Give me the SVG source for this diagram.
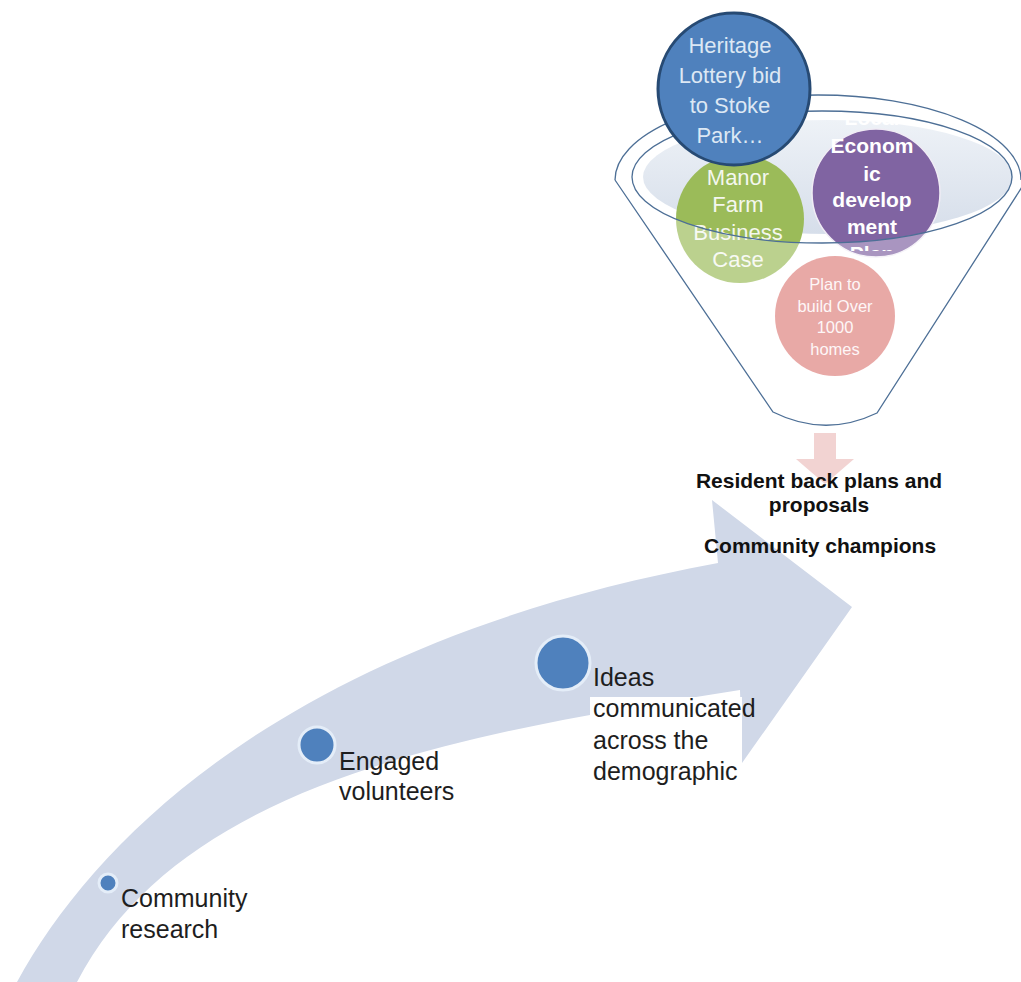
<svg xmlns="http://www.w3.org/2000/svg" width="1021" height="982" viewBox="0 0 1021 982">
<defs>
<style>
.body{font-family:"Liberation Sans",Arial,sans-serif;font-size:25px;fill:#1e1e1e}
.bold{font-family:"Liberation Sans",Arial,sans-serif;font-size:21px;font-weight:bold;fill:#111;text-anchor:middle}
.ct{font-family:"Liberation Sans",Arial,sans-serif;text-anchor:middle}
.dot{fill:#4f81bd;stroke:#e4edf8;stroke-width:3}
.rim{fill:none;stroke:#4d6f96;stroke-width:1.3}
</style>
<linearGradient id="bowl" x1="0" y1="0" x2="0" y2="1">
<stop offset="0" stop-color="#eef2f7"/>
<stop offset="1" stop-color="#d6deea"/>
</linearGradient>
<clipPath id="pclip"><rect x="800" y="100" width="160" height="151"/></clipPath>
</defs>
<rect width="1021" height="982" fill="#ffffff"/>

<g id="curved-arrow">
<path d="M17,982 C100,830 300,640 718,563 L712,500 L852,607 L742,763 L740,690 C450,735 180,785 77,982 Z" fill="#d0d8e8"/>
<rect x="590" y="697" width="152" height="98" fill="#ffffff"/>
</g>

<g id="step-community-research">
<circle class="dot" cx="108" cy="883" r="9"/>
<text class="body" x="121" y="907">Community</text>
<text class="body" x="121" y="938">research</text>
</g>
<g id="step-engaged-volunteers">
<circle class="dot" cx="317" cy="745" r="18"/>
<text class="body" x="339" y="770">Engaged</text>
<text class="body" x="339" y="800">volunteers</text>
</g>
<g id="step-ideas">
<circle class="dot" cx="563" cy="663" r="27"/>
<text class="body" x="593" y="686">Ideas</text>
<text class="body" x="593" y="717">communicated</text>
<text class="body" x="593" y="749">across the</text>
<text class="body" x="593" y="780">demographic</text>
</g>

<g id="funnel">
<ellipse cx="828" cy="177" rx="185" ry="57" fill="url(#bowl)"/>
<g id="node-manor-farm">
<circle cx="740" cy="219" r="64" fill="#9bbb59"/>
<text class="ct" x="738" y="185" font-size="22" fill="#f4f7ee">Manor</text>
<text class="ct" x="738" y="212" font-size="22" fill="#f4f7ee">Farm</text>
<text class="ct" x="738" y="240" font-size="22" fill="#f4f7ee">Business</text>
<text class="ct" x="738" y="267" font-size="22" fill="#f4f7ee">Case</text>
</g>
<g id="node-economic">
<circle cx="876" cy="193" r="64" fill="#8064a2" stroke="#f0ecf5" stroke-width="1.5"/>
<g clip-path="url(#pclip)" font-weight="bold">
<text class="ct" x="872" y="125" font-size="21" fill="#ffffff">Local</text>
<text class="ct" x="872" y="153" font-size="21" fill="#ffffff">Econom</text>
<text class="ct" x="872" y="181" font-size="21" fill="#ffffff">ic</text>
<text class="ct" x="872" y="207" font-size="21" fill="#ffffff">develop</text>
<text class="ct" x="872" y="234" font-size="21" fill="#ffffff">ment</text>
<text class="ct" x="872" y="261" font-size="21" fill="#ffffff">Plan</text>
</g>
</g>
<g id="node-homes">
<circle cx="835" cy="316" r="60" fill="#de807d"/>
<text class="ct" x="835" y="290" font-size="16.5" fill="#fdf3f3">Plan to</text>
<text class="ct" x="835" y="312" font-size="16.5" fill="#fdf3f3">build Over</text>
<text class="ct" x="835" y="333" font-size="16.5" fill="#fdf3f3">1000</text>
<text class="ct" x="835" y="355" font-size="16.5" fill="#fdf3f3">homes</text>
</g>
<path d="M615,180 L773,412 Q825,438 877,413 L1022,187 L1012,177 A190,66 0 0,1 632,177 Z" fill="#ffffff" fill-opacity="0.32"/>
<path class="rim" d="M615,180 L773,412 Q825,438 877,413 L1022,187"/>
<path class="rim" d="M615,180 A203,85 0 0,1 1021,180"/>
<ellipse class="rim" cx="822" cy="177" rx="190" ry="66"/>
<g id="node-heritage">
<circle cx="734" cy="89" r="76" fill="#4f81bd" stroke="#274a73" stroke-width="3"/>
<text class="ct" x="730" y="53" font-size="22" fill="#dde8f4">Heritage</text>
<text class="ct" x="730" y="83" font-size="22" fill="#dde8f4">Lottery bid</text>
<text class="ct" x="730" y="113" font-size="22" fill="#dde8f4">to Stoke</text>
<text class="ct" x="730" y="143" font-size="22" fill="#dde8f4">Park…</text>
</g>
</g>

<g id="connectors">
<path d="M814,433 H836 V459 H854 L825,484 L796,459 H814 Z" fill="#f2d3d2"/>
</g>

<g id="outcome">
<text class="bold" x="819" y="488">Resident back plans and</text>
<text class="bold" x="819" y="512">proposals</text>
<text class="bold" x="820" y="553">Community champions</text>
</g>
</svg>
